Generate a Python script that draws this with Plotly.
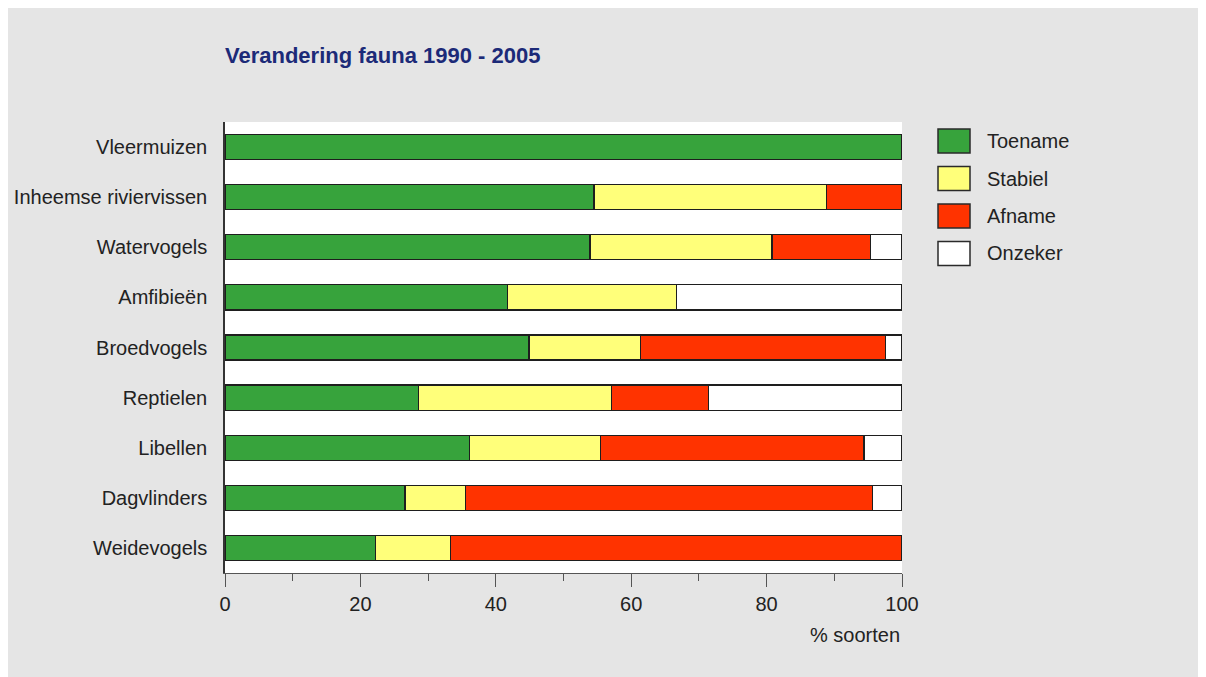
import plotly.graph_objects as go

categories = ["Vleermuizen", "Inheemse riviervissen", "Watervogels", "Amfibieën",
              "Broedvogels", "Reptielen", "Libellen", "Dagvlinders", "Weidevogels"]
toename = [100, 54.5, 53.9, 41.7, 44.9, 28.6, 36.1, 26.6, 22.2]
stabiel = [0, 34.4, 26.9, 25.0, 16.5, 28.5, 19.4, 8.9, 11.1]
afname = [0, 11.1, 14.5, 0, 36.2, 14.3, 38.9, 60.1, 66.7]
onzeker = [0, 0, 4.7, 33.3, 2.4, 28.6, 5.6, 4.4, 0]
series_names = ["Toename", "Stabiel", "Afname", "Onzeker"]
series_values = [toename, stabiel, afname, onzeker]
series_colors = ["#37a33c", "#ffff7a", "#ff3300", "#ffffff"]
x_ticks = [0, 20, 40, 60, 80, 100]

FONT = "Liberation Sans Narrow, Arial Narrow, Liberation Sans, Arial, sans-serif"

W, H = 1198, 669
L, R, T, B = 217, 304, 114, 104
PW, PH = W - L - R, H - T - B

def px_x(fx):
    return (fx - L) / PW

def px_y(fy):
    return 1 - (fy - T) / PH

fig = go.Figure()
for name, vals, col in zip(series_names, series_values, series_colors):
    fig.add_trace(go.Bar(
        y=categories, x=vals, name=name, orientation="h",
        marker=dict(color=col, line=dict(color="#1e1e1e", width=1.2)),
        width=0.5, showlegend=False,
    ))

fig.update_layout(
    width=W, height=H,
    barmode="stack",
    paper_bgcolor="#e5e5e5",
    plot_bgcolor="#ffffff",
    margin=dict(l=L, r=R, t=T, b=B, autoexpand=False),
    font=dict(family=FONT, size=20, color="#222222"),
    title=dict(text="<b>Verandering fauna 1990 - 2005</b>",
               font=dict(family=FONT, size=22, color="#1c2a78"),
               x=L / W, xanchor="left", y=1 - 47 / H, yanchor="middle"),
    showlegend=False,
)
fig.update_xaxes(range=[0, 100], tickvals=x_ticks, ticks="outside", ticklen=13, tickcolor="#555555",
                 showline=True, linecolor="#555555", linewidth=1, showgrid=False, zeroline=False,
                 tickfont=dict(size=20, color="#222222"), automargin=False,
                 minor=dict(dtick=10, ticks="outside", ticklen=7, tickcolor="#555555", showgrid=False),
                 fixedrange=True)
fig.update_yaxes(categoryorder="array", categoryarray=categories[::-1], range=[-0.5, 8.5],
                 showline=True, linecolor="#333333", linewidth=1.5, ticks="", showgrid=False,
                 automargin=False,
                 ticklabelstandoff=12, tickfont=dict(size=20, color="#222222"))

fig.add_annotation(text="% soorten", xref="paper", yref="paper", x=1, y=px_y(627),
                   xanchor="right", yanchor="middle", showarrow=False,
                   font=dict(family=FONT, size=20, color="#222222"))

# manual legend with larger swatches
leg_x0, leg_x1, leg_text_x = 930, 962, 977
leg_y0, leg_step, sw_h = 133, 37.5, 24
for i, (name, col) in enumerate(zip(series_names, series_colors)):
    cy = leg_y0 + i * leg_step
    fig.add_shape(type="rect", xref="paper", yref="paper",
                  x0=px_x(leg_x0), x1=px_x(leg_x1), y0=px_y(cy + sw_h / 2), y1=px_y(cy - sw_h / 2),
                  fillcolor=col, line=dict(color="#2a2a2a", width=1.5))
    fig.add_annotation(text=name, xref="paper", yref="paper", x=px_x(leg_text_x), y=px_y(cy),
                       xanchor="left", yanchor="middle", showarrow=False,
                       font=dict(family=FONT, size=20, color="#222222"))

fig.write_html("out.html")
